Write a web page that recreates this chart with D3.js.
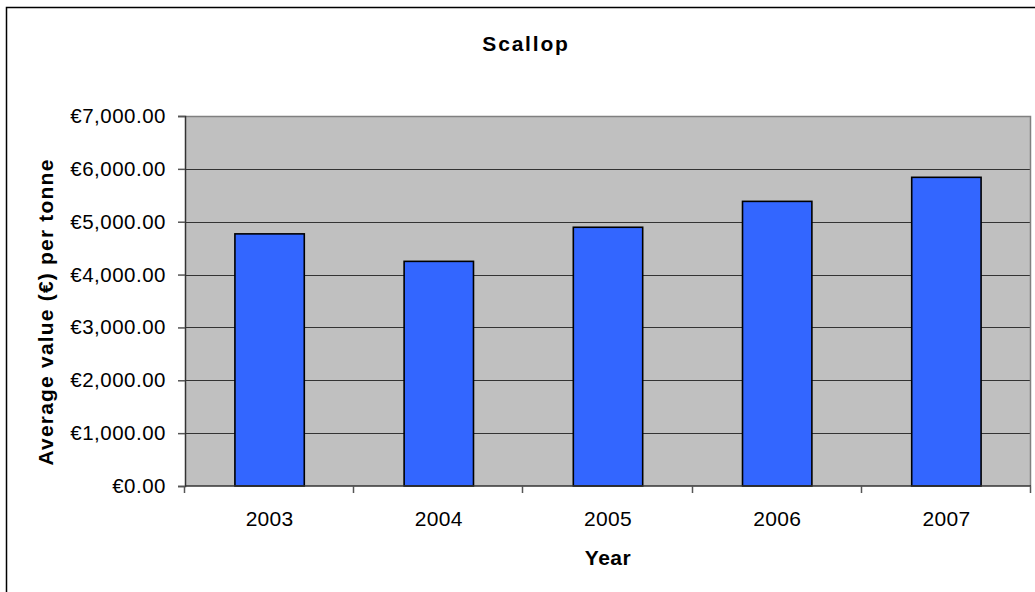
<!DOCTYPE html>
<html>
<head>
<meta charset="utf-8">
<script src="https://cdn.jsdelivr.net/npm/d3@7"></script>
<style>
  html, body { margin: 0; padding: 0; background: #fff; }
  svg { display: block; font-family: Arial, "Liberation Sans", sans-serif; }
</style>
</head>
<body>
<svg id="chart" width="1035" height="592"></svg>
<script>
// Average value per tonne of scallop landings, by year
const years = ["2003", "2004", "2005", "2006", "2007"];
const avgValue = [4770, 4250, 4895, 5385, 5840];
const yTicks = [0, 1000, 2000, 3000, 4000, 5000, 6000, 7000];

const titleText = "Scallop";
const xTitle = "Year";
const yTitle = "Average value (\u20AC) per tonne";

const svg = d3.select("#chart");
const plot = { left: 185, top: 116, right: 1031, bottom: 486 };

// outer chart frame
svg.append("rect")
  .attr("x", 6.5).attr("y", 7.5)
  .attr("width", 1100).attr("height", 700)
  .attr("fill", "#fff")
  .attr("stroke", "#000").attr("stroke-width", 1.5);

const x = d3.scaleBand()
  .domain(years)
  .range([plot.left, plot.right])
  .paddingInner(0.59).paddingOuter(0.295);

const xBand = d3.scaleBand().domain(years).range([plot.left, plot.right]);

const y = d3.scaleLinear()
  .domain([0, 7000])
  .range([plot.bottom, plot.top]);

// plot background
svg.append("rect")
  .attr("x", plot.left).attr("y", plot.top)
  .attr("width", plot.right - plot.left).attr("height", plot.bottom - plot.top)
  .attr("fill", "#c0c0c0");

// horizontal gridlines
svg.append("g")
  .selectAll("line")
  .data(yTicks.filter(d => d > 0 && d < 7000))
  .join("line")
  .attr("x1", plot.left).attr("x2", plot.right)
  .attr("y1", d => Math.round(y(d)) + 0.5).attr("y2", d => Math.round(y(d)) + 0.5)
  .attr("stroke", "#333").attr("stroke-width", 1.2);

// top and right border of plot area
svg.append("path")
  .attr("d", `M${plot.left},${plot.top + 0.5}H${plot.right - 0.5}V${plot.bottom}`)
  .attr("fill", "none")
  .attr("stroke", "#808080").attr("stroke-width", 1.5);

// bars
svg.append("g")
  .selectAll("rect")
  .data(years.map((yr, i) => ({ yr, v: avgValue[i] })))
  .join("rect")
  .attr("x", d => x(d.yr))
  .attr("y", d => y(d.v))
  .attr("width", x.bandwidth())
  .attr("height", d => y(0) - y(d.v))
  .attr("fill", "#3366ff")
  .attr("stroke", "#000").attr("stroke-width", 1.6);

// y axis
const yAxis = d3.axisLeft(y)
  .tickValues(yTicks)
  .tickSize(7)
  .tickPadding(12)
  .tickFormat(d => "\u20AC" + d3.format(",.2f")(d));

const gy = svg.append("g")
  .attr("transform", `translate(${plot.left},0)`)
  .call(yAxis);
gy.select(".domain").attr("stroke", "#333").attr("stroke-width", 1.5);
gy.selectAll(".tick line").attr("stroke", "#555").attr("stroke-width", 1.5);
gy.selectAll(".tick text")
  .attr("fill", "#000")
  .style("font-size", "20.5px")
  .style("letter-spacing", "0.5px");

// x axis: ticks at category boundaries, labels centered in each band
const gx = svg.append("g")
  .attr("transform", `translate(0,${plot.bottom})`);
gx.append("line")
  .attr("x1", plot.left).attr("x2", plot.right)
  .attr("stroke", "#333").attr("stroke-width", 1.5);
const bounds = years.map(yr => xBand(yr)).concat([plot.right]);
gx.selectAll("line.tk")
  .data(bounds)
  .join("line").attr("class", "tk")
  .attr("x1", d => Math.round(d) - 0.5).attr("x2", d => Math.round(d) - 0.5)
  .attr("y1", 0).attr("y2", 7)
  .attr("stroke", "#555").attr("stroke-width", 1.5);
gx.selectAll("text")
  .data(years)
  .join("text")
  .attr("x", d => xBand(d) + xBand.bandwidth() / 2)
  .attr("y", 40)
  .attr("text-anchor", "middle")
  .style("font-size", "21px")
  .style("letter-spacing", "0.3px")
  .text(d => d);

// titles
svg.append("text")
  .attr("x", 526).attr("y", 51)
  .attr("text-anchor", "middle")
  .style("font-size", "21px").style("font-weight", "bold")
  .style("letter-spacing", "1.8px")
  .text(titleText);

svg.append("text")
  .attr("x", (plot.left + plot.right) / 2).attr("y", 565)
  .attr("text-anchor", "middle")
  .style("font-size", "21px").style("font-weight", "bold")
  .style("letter-spacing", "0.5px")
  .text(xTitle);

svg.append("text")
  .attr("transform", "translate(53,312) rotate(-90)")
  .attr("text-anchor", "middle")
  .style("font-size", "21px").style("font-weight", "bold")
  .style("letter-spacing", "1.2px")
  .text(yTitle);
</script>
</body>
</html>
